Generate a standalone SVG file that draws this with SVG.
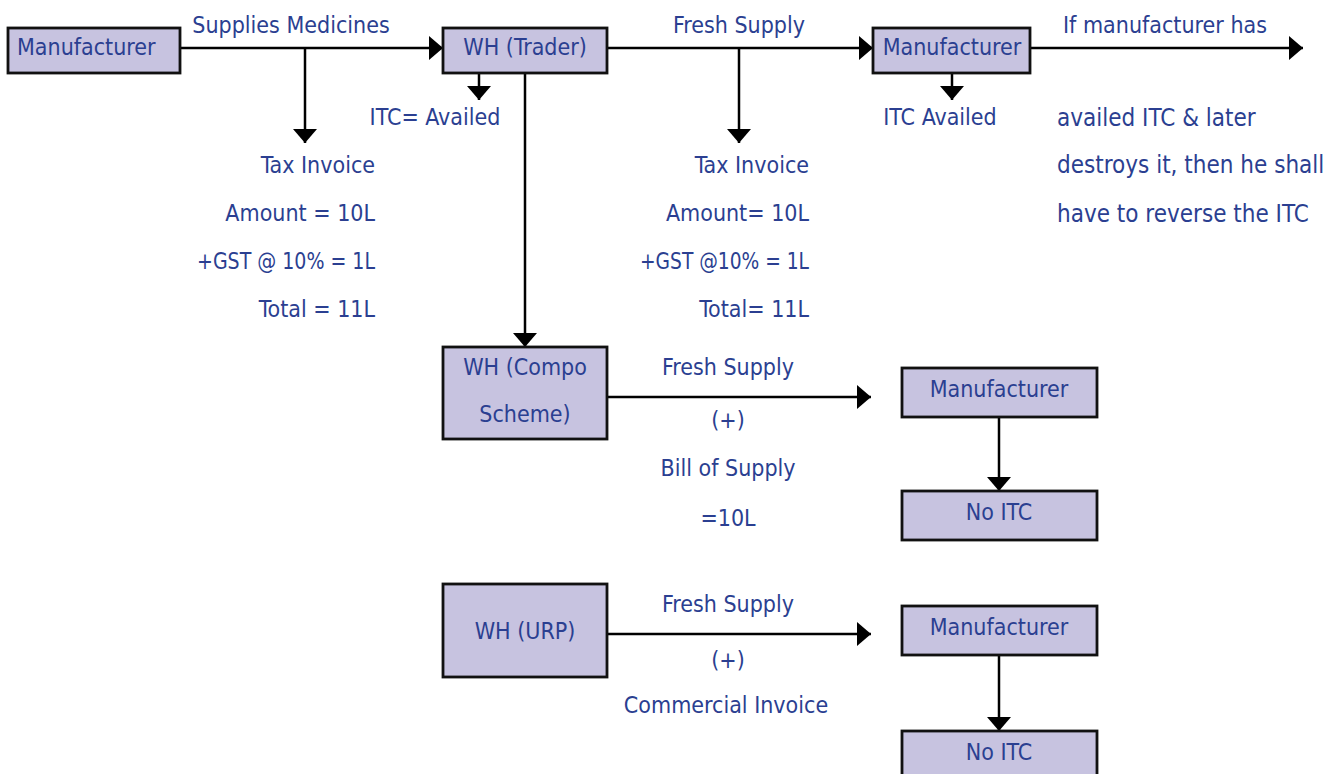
<svg xmlns="http://www.w3.org/2000/svg" width="1343" height="774" viewBox="0 0 1343 774">
<style>
.box{fill:#C7C3E0;stroke:#111;stroke-width:2.8}
text{font-family:"DejaVu Sans Condensed","DejaVu Sans",sans-serif;font-size:23px;fill:#2B3F91}
.c{text-anchor:middle}
.r{text-anchor:end}
.w{font-size:24px}
.ln{stroke:#000;stroke-width:2.5;fill:none}
.ar{marker-end:url(#ah)}
</style>
<defs>
<marker id="ah" viewBox="0 0 14 24" refX="14" refY="12" markerWidth="14" markerHeight="24" markerUnits="userSpaceOnUse" orient="auto">
<path d="M0,0 L14,12 L0,24 Z" fill="#000"/>
</marker>
</defs>
<rect width="1343" height="774" fill="#fff"/>
<g id="connectors">
<line class="ln ar" x1="180" y1="48" x2="443" y2="48"/>
<line class="ln ar" x1="305" y1="48" x2="305" y2="143"/>
<line class="ln ar" x1="479" y1="73" x2="479" y2="100"/>
<line class="ln ar" x1="525" y1="73" x2="525" y2="347"/>
<line class="ln ar" x1="607" y1="48" x2="873" y2="48"/>
<line class="ln ar" x1="739" y1="48" x2="739" y2="143"/>
<line class="ln ar" x1="952" y1="73" x2="952" y2="100"/>
<line class="ln ar" x1="1030" y1="48" x2="1303" y2="48"/>
<line class="ln ar" x1="607" y1="397" x2="871" y2="397"/>
<line class="ln ar" x1="999" y1="417" x2="999" y2="491"/>
<line class="ln ar" x1="607" y1="634" x2="871" y2="634"/>
<line class="ln ar" x1="999" y1="655" x2="999" y2="731"/>
</g>
<g id="labels">
<text x="291" y="33" class="c">Supplies Medicines</text>
<text x="435" y="125" class="c">ITC= Availed</text>
<text x="739" y="33" class="c">Fresh Supply</text>
<text x="940" y="125" class="c">ITC Availed</text>
<text x="1063" y="33">If manufacturer has</text>
<text x="1057" y="126" class="w">availed ITC &amp; later</text>
<text x="1057" y="173" class="w">destroys it, then he shall</text>
<text x="1057" y="222" class="w">have to reverse the ITC</text>
<text x="375" y="173" class="r">Tax Invoice</text>
<text x="375" y="221" class="r">Amount = 10L</text>
<text x="375" y="269" class="r" textLength="178" lengthAdjust="spacingAndGlyphs">+GST @ 10% = 1L</text>
<text x="375" y="317" class="r">Total = 11L</text>
<text x="809" y="173" class="r">Tax Invoice</text>
<text x="809" y="221" class="r">Amount= 10L</text>
<text x="809" y="269" class="r" textLength="169" lengthAdjust="spacingAndGlyphs">+GST @10% = 1L</text>
<text x="809" y="317" class="r">Total= 11L</text>
<text x="728" y="375" class="c">Fresh Supply</text>
<text x="728" y="428" class="c">(+)</text>
<text x="728" y="476" class="c">Bill of Supply</text>
<text x="728" y="526" class="c">=10L</text>
<text x="728" y="612" class="c">Fresh Supply</text>
<text x="728" y="668" class="c">(+)</text>
<text x="726" y="713" class="c">Commercial Invoice</text>
</g>
<g id="n-manufacturer1"><rect class="box" x="8" y="28" width="172" height="45"/><text x="17" y="55">Manufacturer</text></g>
<g id="n-wh-trader"><rect class="box" x="443" y="28" width="164" height="45"/><text x="525" y="55" class="c">WH (Trader)</text></g>
<g id="n-manufacturer2"><rect class="box" x="873" y="28" width="157" height="45"/><text x="952" y="55" class="c">Manufacturer</text></g>
<g id="n-wh-compo"><rect class="box" x="443" y="347" width="164" height="92"/><text x="525" y="375" class="c">WH (Compo</text><text x="525" y="422" class="c">Scheme)</text></g>
<g id="n-manufacturer3"><rect class="box" x="902" y="368" width="195" height="49"/><text x="999" y="397" class="c">Manufacturer</text></g>
<g id="n-noitc1"><rect class="box" x="902" y="491" width="195" height="49"/><text x="999" y="520" class="c">No ITC</text></g>
<g id="n-wh-urp"><rect class="box" x="443" y="584" width="164" height="93"/><text x="525" y="639" class="c">WH (URP)</text></g>
<g id="n-manufacturer4"><rect class="box" x="902" y="606" width="195" height="49"/><text x="999" y="635" class="c">Manufacturer</text></g>
<g id="n-noitc2"><rect class="box" x="902" y="731" width="195" height="50"/><text x="999" y="760" class="c">No ITC</text></g>
</svg>
